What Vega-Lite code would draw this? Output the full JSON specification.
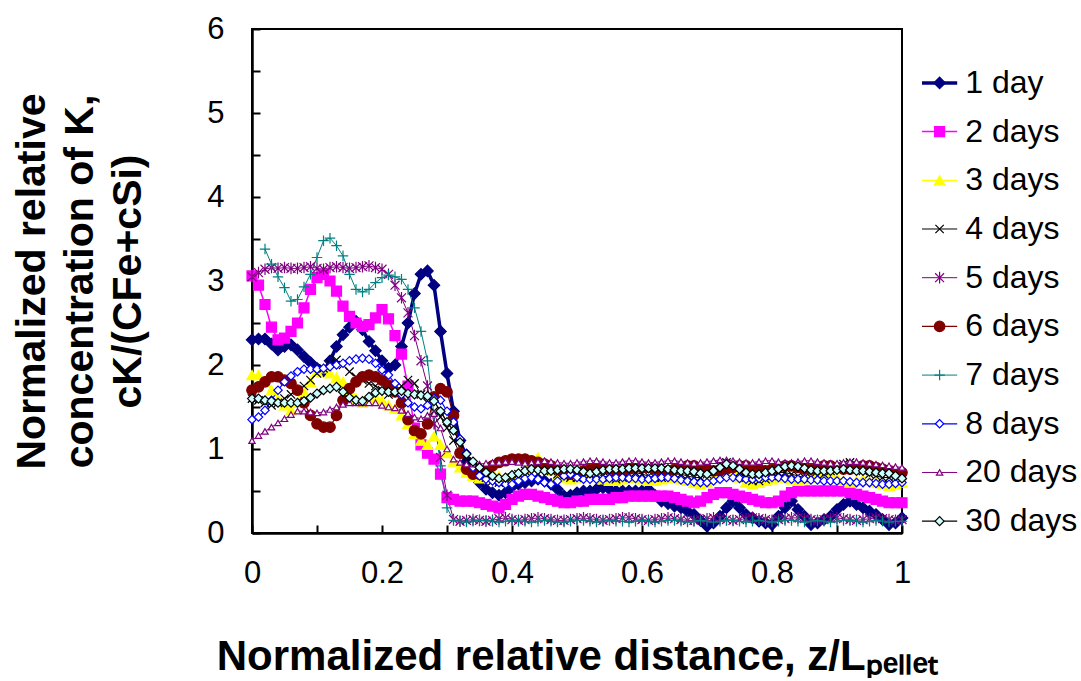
{
"$schema": "https://vega.github.io/schema/vega-lite/v6.json",
"background": "white",
"padding": {"left": 10, "top": 12, "right": 5, "bottom": 0},
"bounds": "flush",
"spacing": 20,
"config": {"font": "Liberation Sans", "view": {"stroke": null}},
"datasets": {
"leg": [{"s":"1 day"},{"s":"2 days"},{"s":"3 days"},{"s":"4 days"},{"s":"5 days"},{"s":"6 days"},{"s":"7 days"},{"s":"8 days"},{"s":"20 days"},{"s":"30 days"}],
"pts": [
{"s":"1 day","x":0,"y":2.3},{"s":"1 day","x":0.01,"y":2.31},{"s":"1 day","x":0.02,"y":2.31},{"s":"1 day","x":0.03,"y":2.25},{"s":"1 day","x":0.04,"y":2.18},{"s":"1 day","x":0.05,"y":2.22},{"s":"1 day","x":0.06,"y":2.24},{"s":"1 day","x":0.07,"y":2.18},{"s":"1 day","x":0.08,"y":2.1},{"s":"1 day","x":0.09,"y":2.03},
{"s":"1 day","x":0.1,"y":1.96},{"s":"1 day","x":0.11,"y":1.93},{"s":"1 day","x":0.12,"y":2.05},{"s":"1 day","x":0.13,"y":2.22},{"s":"1 day","x":0.14,"y":2.36},{"s":"1 day","x":0.15,"y":2.45},{"s":"1 day","x":0.16,"y":2.52},{"s":"1 day","x":0.17,"y":2.42},{"s":"1 day","x":0.18,"y":2.28},{"s":"1 day","x":0.19,"y":2.17},
{"s":"1 day","x":0.2,"y":2.05},{"s":"1 day","x":0.21,"y":1.96},{"s":"1 day","x":0.22,"y":2.0},{"s":"1 day","x":0.23,"y":2.22},{"s":"1 day","x":0.24,"y":2.5},{"s":"1 day","x":0.25,"y":2.85},{"s":"1 day","x":0.26,"y":3.08},{"s":"1 day","x":0.27,"y":3.12},{"s":"1 day","x":0.28,"y":2.95},{"s":"1 day","x":0.29,"y":2.4},
{"s":"1 day","x":0.3,"y":1.9},{"s":"1 day","x":0.31,"y":1.45},{"s":"1 day","x":0.32,"y":1.1},{"s":"1 day","x":0.33,"y":0.85},{"s":"1 day","x":0.34,"y":0.7},{"s":"1 day","x":0.35,"y":0.6},{"s":"1 day","x":0.36,"y":0.52},{"s":"1 day","x":0.37,"y":0.48},{"s":"1 day","x":0.38,"y":0.45},{"s":"1 day","x":0.39,"y":0.48},
{"s":"1 day","x":0.4,"y":0.55},{"s":"1 day","x":0.41,"y":0.58},{"s":"1 day","x":0.42,"y":0.6},{"s":"1 day","x":0.43,"y":0.62},{"s":"1 day","x":0.44,"y":0.64},{"s":"1 day","x":0.45,"y":0.62},{"s":"1 day","x":0.46,"y":0.58},{"s":"1 day","x":0.47,"y":0.52},{"s":"1 day","x":0.48,"y":0.44},{"s":"1 day","x":0.49,"y":0.45},
{"s":"1 day","x":0.5,"y":0.48},{"s":"1 day","x":0.51,"y":0.5},{"s":"1 day","x":0.52,"y":0.5},{"s":"1 day","x":0.53,"y":0.52},{"s":"1 day","x":0.54,"y":0.54},{"s":"1 day","x":0.55,"y":0.52},{"s":"1 day","x":0.56,"y":0.5},{"s":"1 day","x":0.57,"y":0.5},{"s":"1 day","x":0.58,"y":0.5},{"s":"1 day","x":0.59,"y":0.5},
{"s":"1 day","x":0.6,"y":0.5},{"s":"1 day","x":0.61,"y":0.52},{"s":"1 day","x":0.62,"y":0.45},{"s":"1 day","x":0.63,"y":0.38},{"s":"1 day","x":0.64,"y":0.35},{"s":"1 day","x":0.65,"y":0.32},{"s":"1 day","x":0.66,"y":0.3},{"s":"1 day","x":0.67,"y":0.26},{"s":"1 day","x":0.68,"y":0.22},{"s":"1 day","x":0.69,"y":0.15},
{"s":"1 day","x":0.7,"y":0.08},{"s":"1 day","x":0.71,"y":0.12},{"s":"1 day","x":0.72,"y":0.2},{"s":"1 day","x":0.73,"y":0.3},{"s":"1 day","x":0.74,"y":0.38},{"s":"1 day","x":0.75,"y":0.3},{"s":"1 day","x":0.76,"y":0.22},{"s":"1 day","x":0.77,"y":0.18},{"s":"1 day","x":0.78,"y":0.14},{"s":"1 day","x":0.79,"y":0.12},
{"s":"1 day","x":0.8,"y":0.1},{"s":"1 day","x":0.81,"y":0.2},{"s":"1 day","x":0.82,"y":0.3},{"s":"1 day","x":0.83,"y":0.38},{"s":"1 day","x":0.84,"y":0.28},{"s":"1 day","x":0.85,"y":0.2},{"s":"1 day","x":0.86,"y":0.1},{"s":"1 day","x":0.87,"y":0.12},{"s":"1 day","x":0.88,"y":0.16},{"s":"1 day","x":0.89,"y":0.2},
{"s":"1 day","x":0.9,"y":0.28},{"s":"1 day","x":0.91,"y":0.34},{"s":"1 day","x":0.92,"y":0.38},{"s":"1 day","x":0.93,"y":0.34},{"s":"1 day","x":0.94,"y":0.3},{"s":"1 day","x":0.95,"y":0.26},{"s":"1 day","x":0.96,"y":0.22},{"s":"1 day","x":0.97,"y":0.16},{"s":"1 day","x":0.98,"y":0.1},{"s":"1 day","x":0.99,"y":0.12},
{"s":"1 day","x":1,"y":0.18},
{"s":"2 days","x":0,"y":3.06},{"s":"2 days","x":0.01,"y":2.95},{"s":"2 days","x":0.02,"y":2.72},{"s":"2 days","x":0.03,"y":2.45},{"s":"2 days","x":0.04,"y":2.3},{"s":"2 days","x":0.05,"y":2.32},{"s":"2 days","x":0.06,"y":2.4},{"s":"2 days","x":0.07,"y":2.5},{"s":"2 days","x":0.08,"y":2.68},{"s":"2 days","x":0.09,"y":2.9},
{"s":"2 days","x":0.1,"y":3.04},{"s":"2 days","x":0.11,"y":3.08},{"s":"2 days","x":0.12,"y":3.0},{"s":"2 days","x":0.13,"y":2.88},{"s":"2 days","x":0.14,"y":2.7},{"s":"2 days","x":0.15,"y":2.58},{"s":"2 days","x":0.16,"y":2.5},{"s":"2 days","x":0.17,"y":2.46},{"s":"2 days","x":0.18,"y":2.48},{"s":"2 days","x":0.19,"y":2.56},
{"s":"2 days","x":0.2,"y":2.66},{"s":"2 days","x":0.21,"y":2.55},{"s":"2 days","x":0.22,"y":2.35},{"s":"2 days","x":0.23,"y":2.13},{"s":"2 days","x":0.24,"y":1.75},{"s":"2 days","x":0.25,"y":1.25},{"s":"2 days","x":0.26,"y":1.05},{"s":"2 days","x":0.27,"y":0.95},{"s":"2 days","x":0.28,"y":0.88},{"s":"2 days","x":0.29,"y":0.7},
{"s":"2 days","x":0.3,"y":0.42},{"s":"2 days","x":0.31,"y":0.4},{"s":"2 days","x":0.32,"y":0.38},{"s":"2 days","x":0.33,"y":0.38},{"s":"2 days","x":0.34,"y":0.38},{"s":"2 days","x":0.35,"y":0.36},{"s":"2 days","x":0.36,"y":0.34},{"s":"2 days","x":0.37,"y":0.32},{"s":"2 days","x":0.38,"y":0.3},{"s":"2 days","x":0.39,"y":0.34},
{"s":"2 days","x":0.4,"y":0.4},{"s":"2 days","x":0.41,"y":0.44},{"s":"2 days","x":0.42,"y":0.46},{"s":"2 days","x":0.43,"y":0.46},{"s":"2 days","x":0.44,"y":0.44},{"s":"2 days","x":0.45,"y":0.42},{"s":"2 days","x":0.46,"y":0.4},{"s":"2 days","x":0.47,"y":0.38},{"s":"2 days","x":0.48,"y":0.36},{"s":"2 days","x":0.49,"y":0.36},
{"s":"2 days","x":0.5,"y":0.38},{"s":"2 days","x":0.51,"y":0.38},{"s":"2 days","x":0.52,"y":0.4},{"s":"2 days","x":0.53,"y":0.4},{"s":"2 days","x":0.54,"y":0.4},{"s":"2 days","x":0.55,"y":0.4},{"s":"2 days","x":0.56,"y":0.42},{"s":"2 days","x":0.57,"y":0.42},{"s":"2 days","x":0.58,"y":0.44},{"s":"2 days","x":0.59,"y":0.44},
{"s":"2 days","x":0.6,"y":0.44},{"s":"2 days","x":0.61,"y":0.44},{"s":"2 days","x":0.62,"y":0.44},{"s":"2 days","x":0.63,"y":0.44},{"s":"2 days","x":0.64,"y":0.44},{"s":"2 days","x":0.65,"y":0.42},{"s":"2 days","x":0.66,"y":0.4},{"s":"2 days","x":0.67,"y":0.38},{"s":"2 days","x":0.68,"y":0.36},{"s":"2 days","x":0.69,"y":0.38},
{"s":"2 days","x":0.7,"y":0.42},{"s":"2 days","x":0.71,"y":0.46},{"s":"2 days","x":0.72,"y":0.48},{"s":"2 days","x":0.73,"y":0.48},{"s":"2 days","x":0.74,"y":0.46},{"s":"2 days","x":0.75,"y":0.44},{"s":"2 days","x":0.76,"y":0.42},{"s":"2 days","x":0.77,"y":0.4},{"s":"2 days","x":0.78,"y":0.38},{"s":"2 days","x":0.79,"y":0.36},
{"s":"2 days","x":0.8,"y":0.36},{"s":"2 days","x":0.81,"y":0.38},{"s":"2 days","x":0.82,"y":0.44},{"s":"2 days","x":0.83,"y":0.48},{"s":"2 days","x":0.84,"y":0.5},{"s":"2 days","x":0.85,"y":0.5},{"s":"2 days","x":0.86,"y":0.5},{"s":"2 days","x":0.87,"y":0.5},{"s":"2 days","x":0.88,"y":0.5},{"s":"2 days","x":0.89,"y":0.5},
{"s":"2 days","x":0.9,"y":0.5},{"s":"2 days","x":0.91,"y":0.5},{"s":"2 days","x":0.92,"y":0.48},{"s":"2 days","x":0.93,"y":0.46},{"s":"2 days","x":0.94,"y":0.44},{"s":"2 days","x":0.95,"y":0.42},{"s":"2 days","x":0.96,"y":0.4},{"s":"2 days","x":0.97,"y":0.38},{"s":"2 days","x":0.98,"y":0.36},{"s":"2 days","x":0.99,"y":0.36},
{"s":"2 days","x":1,"y":0.36},
{"s":"3 days","x":0,"y":1.88},{"s":"3 days","x":0.01,"y":1.88},{"s":"3 days","x":0.02,"y":1.8},{"s":"3 days","x":0.03,"y":1.7},{"s":"3 days","x":0.04,"y":1.6},{"s":"3 days","x":0.05,"y":1.52},{"s":"3 days","x":0.06,"y":1.46},{"s":"3 days","x":0.07,"y":1.55},{"s":"3 days","x":0.08,"y":1.68},{"s":"3 days","x":0.09,"y":1.8},
{"s":"3 days","x":0.1,"y":1.92},{"s":"3 days","x":0.11,"y":1.96},{"s":"3 days","x":0.12,"y":1.9},{"s":"3 days","x":0.13,"y":1.85},{"s":"3 days","x":0.14,"y":1.8},{"s":"3 days","x":0.15,"y":1.7},{"s":"3 days","x":0.16,"y":1.6},{"s":"3 days","x":0.17,"y":1.55},{"s":"3 days","x":0.18,"y":1.58},{"s":"3 days","x":0.19,"y":1.62},
{"s":"3 days","x":0.2,"y":1.58},{"s":"3 days","x":0.21,"y":1.52},{"s":"3 days","x":0.22,"y":1.48},{"s":"3 days","x":0.23,"y":1.4},{"s":"3 days","x":0.24,"y":1.3},{"s":"3 days","x":0.25,"y":1.18},{"s":"3 days","x":0.26,"y":1.1},{"s":"3 days","x":0.27,"y":1.05},{"s":"3 days","x":0.28,"y":1.15},{"s":"3 days","x":0.29,"y":1.05},
{"s":"3 days","x":0.3,"y":0.95},{"s":"3 days","x":0.31,"y":0.85},{"s":"3 days","x":0.32,"y":0.78},{"s":"3 days","x":0.33,"y":0.72},{"s":"3 days","x":0.34,"y":0.68},{"s":"3 days","x":0.35,"y":0.65},{"s":"3 days","x":0.36,"y":0.7},{"s":"3 days","x":0.37,"y":0.72},{"s":"3 days","x":0.38,"y":0.68},{"s":"3 days","x":0.39,"y":0.64},
{"s":"3 days","x":0.4,"y":0.66},{"s":"3 days","x":0.41,"y":0.7},{"s":"3 days","x":0.42,"y":0.76},{"s":"3 days","x":0.43,"y":0.84},{"s":"3 days","x":0.44,"y":0.9},{"s":"3 days","x":0.45,"y":0.82},{"s":"3 days","x":0.46,"y":0.74},{"s":"3 days","x":0.47,"y":0.68},{"s":"3 days","x":0.48,"y":0.66},{"s":"3 days","x":0.49,"y":0.64},
{"s":"3 days","x":0.5,"y":0.66},{"s":"3 days","x":0.51,"y":0.7},{"s":"3 days","x":0.52,"y":0.72},{"s":"3 days","x":0.53,"y":0.68},{"s":"3 days","x":0.54,"y":0.64},{"s":"3 days","x":0.55,"y":0.62},{"s":"3 days","x":0.56,"y":0.62},{"s":"3 days","x":0.57,"y":0.64},{"s":"3 days","x":0.58,"y":0.66},{"s":"3 days","x":0.59,"y":0.66},
{"s":"3 days","x":0.6,"y":0.64},{"s":"3 days","x":0.61,"y":0.62},{"s":"3 days","x":0.62,"y":0.62},{"s":"3 days","x":0.63,"y":0.64},{"s":"3 days","x":0.64,"y":0.66},{"s":"3 days","x":0.65,"y":0.66},{"s":"3 days","x":0.66,"y":0.64},{"s":"3 days","x":0.67,"y":0.62},{"s":"3 days","x":0.68,"y":0.6},{"s":"3 days","x":0.69,"y":0.58},
{"s":"3 days","x":0.7,"y":0.6},{"s":"3 days","x":0.71,"y":0.66},{"s":"3 days","x":0.72,"y":0.72},{"s":"3 days","x":0.73,"y":0.78},{"s":"3 days","x":0.74,"y":0.74},{"s":"3 days","x":0.75,"y":0.66},{"s":"3 days","x":0.76,"y":0.6},{"s":"3 days","x":0.77,"y":0.58},{"s":"3 days","x":0.78,"y":0.6},{"s":"3 days","x":0.79,"y":0.62},
{"s":"3 days","x":0.8,"y":0.64},{"s":"3 days","x":0.81,"y":0.66},{"s":"3 days","x":0.82,"y":0.66},{"s":"3 days","x":0.83,"y":0.64},{"s":"3 days","x":0.84,"y":0.62},{"s":"3 days","x":0.85,"y":0.64},{"s":"3 days","x":0.86,"y":0.66},{"s":"3 days","x":0.87,"y":0.72},{"s":"3 days","x":0.88,"y":0.76},{"s":"3 days","x":0.89,"y":0.72},
{"s":"3 days","x":0.9,"y":0.66},{"s":"3 days","x":0.91,"y":0.62},{"s":"3 days","x":0.92,"y":0.6},{"s":"3 days","x":0.93,"y":0.62},{"s":"3 days","x":0.94,"y":0.64},{"s":"3 days","x":0.95,"y":0.62},{"s":"3 days","x":0.96,"y":0.6},{"s":"3 days","x":0.97,"y":0.58},{"s":"3 days","x":0.98,"y":0.56},{"s":"3 days","x":0.99,"y":0.58},
{"s":"3 days","x":1,"y":0.6},
{"s":"4 days","x":0,"y":1.6},{"s":"4 days","x":0.01,"y":1.58},{"s":"4 days","x":0.02,"y":1.55},{"s":"4 days","x":0.03,"y":1.52},{"s":"4 days","x":0.04,"y":1.55},{"s":"4 days","x":0.05,"y":1.6},{"s":"4 days","x":0.06,"y":1.65},{"s":"4 days","x":0.07,"y":1.7},{"s":"4 days","x":0.08,"y":1.75},{"s":"4 days","x":0.09,"y":1.82},
{"s":"4 days","x":0.1,"y":1.9},{"s":"4 days","x":0.11,"y":1.96},{"s":"4 days","x":0.12,"y":2.02},{"s":"4 days","x":0.13,"y":2.06},{"s":"4 days","x":0.14,"y":2.0},{"s":"4 days","x":0.15,"y":1.92},{"s":"4 days","x":0.16,"y":1.86},{"s":"4 days","x":0.17,"y":1.82},{"s":"4 days","x":0.18,"y":1.78},{"s":"4 days","x":0.19,"y":1.75},
{"s":"4 days","x":0.2,"y":1.7},{"s":"4 days","x":0.21,"y":1.65},{"s":"4 days","x":0.22,"y":1.68},{"s":"4 days","x":0.23,"y":1.75},{"s":"4 days","x":0.24,"y":1.82},{"s":"4 days","x":0.25,"y":1.78},{"s":"4 days","x":0.26,"y":1.65},{"s":"4 days","x":0.27,"y":1.55},{"s":"4 days","x":0.28,"y":1.45},{"s":"4 days","x":0.29,"y":1.38},
{"s":"4 days","x":0.3,"y":1.25},{"s":"4 days","x":0.31,"y":1.1},{"s":"4 days","x":0.32,"y":0.95},{"s":"4 days","x":0.33,"y":0.85},{"s":"4 days","x":0.34,"y":0.78},{"s":"4 days","x":0.35,"y":0.72},{"s":"4 days","x":0.36,"y":0.66},{"s":"4 days","x":0.37,"y":0.62},{"s":"4 days","x":0.38,"y":0.6},{"s":"4 days","x":0.39,"y":0.62},
{"s":"4 days","x":0.4,"y":0.66},{"s":"4 days","x":0.41,"y":0.7},{"s":"4 days","x":0.42,"y":0.74},{"s":"4 days","x":0.43,"y":0.78},{"s":"4 days","x":0.44,"y":0.82},{"s":"4 days","x":0.45,"y":0.8},{"s":"4 days","x":0.46,"y":0.74},{"s":"4 days","x":0.47,"y":0.7},{"s":"4 days","x":0.48,"y":0.68},{"s":"4 days","x":0.49,"y":0.66},
{"s":"4 days","x":0.5,"y":0.66},{"s":"4 days","x":0.51,"y":0.68},{"s":"4 days","x":0.52,"y":0.7},{"s":"4 days","x":0.53,"y":0.7},{"s":"4 days","x":0.54,"y":0.68},{"s":"4 days","x":0.55,"y":0.66},{"s":"4 days","x":0.56,"y":0.64},{"s":"4 days","x":0.57,"y":0.66},{"s":"4 days","x":0.58,"y":0.7},{"s":"4 days","x":0.59,"y":0.72},
{"s":"4 days","x":0.6,"y":0.7},{"s":"4 days","x":0.61,"y":0.68},{"s":"4 days","x":0.62,"y":0.66},{"s":"4 days","x":0.63,"y":0.66},{"s":"4 days","x":0.64,"y":0.68},{"s":"4 days","x":0.65,"y":0.7},{"s":"4 days","x":0.66,"y":0.7},{"s":"4 days","x":0.67,"y":0.68},{"s":"4 days","x":0.68,"y":0.66},{"s":"4 days","x":0.69,"y":0.66},
{"s":"4 days","x":0.7,"y":0.7},{"s":"4 days","x":0.71,"y":0.76},{"s":"4 days","x":0.72,"y":0.8},{"s":"4 days","x":0.73,"y":0.84},{"s":"4 days","x":0.74,"y":0.8},{"s":"4 days","x":0.75,"y":0.72},{"s":"4 days","x":0.76,"y":0.66},{"s":"4 days","x":0.77,"y":0.62},{"s":"4 days","x":0.78,"y":0.62},{"s":"4 days","x":0.79,"y":0.64},
{"s":"4 days","x":0.8,"y":0.68},{"s":"4 days","x":0.81,"y":0.72},{"s":"4 days","x":0.82,"y":0.72},{"s":"4 days","x":0.83,"y":0.7},{"s":"4 days","x":0.84,"y":0.68},{"s":"4 days","x":0.85,"y":0.66},{"s":"4 days","x":0.86,"y":0.66},{"s":"4 days","x":0.87,"y":0.68},{"s":"4 days","x":0.88,"y":0.7},{"s":"4 days","x":0.89,"y":0.74},
{"s":"4 days","x":0.9,"y":0.78},{"s":"4 days","x":0.91,"y":0.82},{"s":"4 days","x":0.92,"y":0.84},{"s":"4 days","x":0.93,"y":0.8},{"s":"4 days","x":0.94,"y":0.74},{"s":"4 days","x":0.95,"y":0.7},{"s":"4 days","x":0.96,"y":0.68},{"s":"4 days","x":0.97,"y":0.66},{"s":"4 days","x":0.98,"y":0.66},{"s":"4 days","x":0.99,"y":0.68},
{"s":"4 days","x":1,"y":0.68},
{"s":"5 days","x":0,"y":3.05},{"s":"5 days","x":0.01,"y":3.1},{"s":"5 days","x":0.02,"y":3.14},{"s":"5 days","x":0.03,"y":3.16},{"s":"5 days","x":0.04,"y":3.15},{"s":"5 days","x":0.05,"y":3.16},{"s":"5 days","x":0.06,"y":3.15},{"s":"5 days","x":0.07,"y":3.15},{"s":"5 days","x":0.08,"y":3.16},{"s":"5 days","x":0.09,"y":3.17},
{"s":"5 days","x":0.1,"y":3.15},{"s":"5 days","x":0.11,"y":3.14},{"s":"5 days","x":0.12,"y":3.16},{"s":"5 days","x":0.13,"y":3.17},{"s":"5 days","x":0.14,"y":3.16},{"s":"5 days","x":0.15,"y":3.15},{"s":"5 days","x":0.16,"y":3.16},{"s":"5 days","x":0.17,"y":3.17},{"s":"5 days","x":0.18,"y":3.18},{"s":"5 days","x":0.19,"y":3.16},
{"s":"5 days","x":0.2,"y":3.14},{"s":"5 days","x":0.21,"y":3.08},{"s":"5 days","x":0.22,"y":2.95},{"s":"5 days","x":0.23,"y":2.8},{"s":"5 days","x":0.24,"y":2.62},{"s":"5 days","x":0.25,"y":2.35},{"s":"5 days","x":0.26,"y":2.05},{"s":"5 days","x":0.27,"y":1.75},{"s":"5 days","x":0.28,"y":1.3},{"s":"5 days","x":0.29,"y":0.9},
{"s":"5 days","x":0.3,"y":0.45},{"s":"5 days","x":0.31,"y":0.16},{"s":"5 days","x":0.32,"y":0.14},{"s":"5 days","x":0.33,"y":0.15},{"s":"5 days","x":0.34,"y":0.16},{"s":"5 days","x":0.35,"y":0.15},{"s":"5 days","x":0.36,"y":0.14},{"s":"5 days","x":0.37,"y":0.15},{"s":"5 days","x":0.38,"y":0.17},{"s":"5 days","x":0.39,"y":0.18},
{"s":"5 days","x":0.4,"y":0.16},{"s":"5 days","x":0.41,"y":0.15},{"s":"5 days","x":0.42,"y":0.16},{"s":"5 days","x":0.43,"y":0.17},{"s":"5 days","x":0.44,"y":0.18},{"s":"5 days","x":0.45,"y":0.17},{"s":"5 days","x":0.46,"y":0.16},{"s":"5 days","x":0.47,"y":0.15},{"s":"5 days","x":0.48,"y":0.15},{"s":"5 days","x":0.49,"y":0.16},
{"s":"5 days","x":0.5,"y":0.17},{"s":"5 days","x":0.51,"y":0.18},{"s":"5 days","x":0.52,"y":0.17},{"s":"5 days","x":0.53,"y":0.16},{"s":"5 days","x":0.54,"y":0.15},{"s":"5 days","x":0.55,"y":0.16},{"s":"5 days","x":0.56,"y":0.17},{"s":"5 days","x":0.57,"y":0.18},{"s":"5 days","x":0.58,"y":0.18},{"s":"5 days","x":0.59,"y":0.17},
{"s":"5 days","x":0.6,"y":0.16},{"s":"5 days","x":0.61,"y":0.15},{"s":"5 days","x":0.62,"y":0.16},{"s":"5 days","x":0.63,"y":0.17},{"s":"5 days","x":0.64,"y":0.18},{"s":"5 days","x":0.65,"y":0.17},{"s":"5 days","x":0.66,"y":0.16},{"s":"5 days","x":0.67,"y":0.15},{"s":"5 days","x":0.68,"y":0.15},{"s":"5 days","x":0.69,"y":0.16},
{"s":"5 days","x":0.7,"y":0.17},{"s":"5 days","x":0.71,"y":0.18},{"s":"5 days","x":0.72,"y":0.17},{"s":"5 days","x":0.73,"y":0.16},{"s":"5 days","x":0.74,"y":0.15},{"s":"5 days","x":0.75,"y":0.16},{"s":"5 days","x":0.76,"y":0.17},{"s":"5 days","x":0.77,"y":0.18},{"s":"5 days","x":0.78,"y":0.17},{"s":"5 days","x":0.79,"y":0.16},
{"s":"5 days","x":0.8,"y":0.15},{"s":"5 days","x":0.81,"y":0.16},{"s":"5 days","x":0.82,"y":0.17},{"s":"5 days","x":0.83,"y":0.18},{"s":"5 days","x":0.84,"y":0.18},{"s":"5 days","x":0.85,"y":0.17},{"s":"5 days","x":0.86,"y":0.16},{"s":"5 days","x":0.87,"y":0.15},{"s":"5 days","x":0.88,"y":0.16},{"s":"5 days","x":0.89,"y":0.17},
{"s":"5 days","x":0.9,"y":0.18},{"s":"5 days","x":0.91,"y":0.17},{"s":"5 days","x":0.92,"y":0.16},{"s":"5 days","x":0.93,"y":0.15},{"s":"5 days","x":0.94,"y":0.16},{"s":"5 days","x":0.95,"y":0.17},{"s":"5 days","x":0.96,"y":0.18},{"s":"5 days","x":0.97,"y":0.17},{"s":"5 days","x":0.98,"y":0.16},{"s":"5 days","x":0.99,"y":0.15},
{"s":"5 days","x":1,"y":0.16},
{"s":"6 days","x":0,"y":1.7},{"s":"6 days","x":0.01,"y":1.74},{"s":"6 days","x":0.02,"y":1.8},{"s":"6 days","x":0.03,"y":1.86},{"s":"6 days","x":0.04,"y":1.86},{"s":"6 days","x":0.05,"y":1.82},{"s":"6 days","x":0.06,"y":1.78},{"s":"6 days","x":0.07,"y":1.7},{"s":"6 days","x":0.08,"y":1.55},{"s":"6 days","x":0.09,"y":1.4},
{"s":"6 days","x":0.1,"y":1.3},{"s":"6 days","x":0.11,"y":1.26},{"s":"6 days","x":0.12,"y":1.26},{"s":"6 days","x":0.13,"y":1.4},{"s":"6 days","x":0.14,"y":1.58},{"s":"6 days","x":0.15,"y":1.72},{"s":"6 days","x":0.16,"y":1.8},{"s":"6 days","x":0.17,"y":1.86},{"s":"6 days","x":0.18,"y":1.88},{"s":"6 days","x":0.19,"y":1.86},
{"s":"6 days","x":0.2,"y":1.82},{"s":"6 days","x":0.21,"y":1.76},{"s":"6 days","x":0.22,"y":1.68},{"s":"6 days","x":0.23,"y":1.55},{"s":"6 days","x":0.24,"y":1.35},{"s":"6 days","x":0.25,"y":1.22},{"s":"6 days","x":0.26,"y":1.18},{"s":"6 days","x":0.27,"y":1.3},{"s":"6 days","x":0.28,"y":1.62},{"s":"6 days","x":0.29,"y":1.72},
{"s":"6 days","x":0.3,"y":1.68},{"s":"6 days","x":0.31,"y":1.4},{"s":"6 days","x":0.32,"y":0.95},{"s":"6 days","x":0.33,"y":0.76},{"s":"6 days","x":0.34,"y":0.7},{"s":"6 days","x":0.35,"y":0.7},{"s":"6 days","x":0.36,"y":0.74},{"s":"6 days","x":0.37,"y":0.8},{"s":"6 days","x":0.38,"y":0.84},{"s":"6 days","x":0.39,"y":0.86},
{"s":"6 days","x":0.4,"y":0.88},{"s":"6 days","x":0.41,"y":0.88},{"s":"6 days","x":0.42,"y":0.88},{"s":"6 days","x":0.43,"y":0.86},{"s":"6 days","x":0.44,"y":0.84},{"s":"6 days","x":0.45,"y":0.82},{"s":"6 days","x":0.46,"y":0.8},{"s":"6 days","x":0.47,"y":0.76},{"s":"6 days","x":0.48,"y":0.72},{"s":"6 days","x":0.49,"y":0.7},
{"s":"6 days","x":0.5,"y":0.72},{"s":"6 days","x":0.51,"y":0.74},{"s":"6 days","x":0.52,"y":0.76},{"s":"6 days","x":0.53,"y":0.78},{"s":"6 days","x":0.54,"y":0.78},{"s":"6 days","x":0.55,"y":0.76},{"s":"6 days","x":0.56,"y":0.74},{"s":"6 days","x":0.57,"y":0.74},{"s":"6 days","x":0.58,"y":0.76},{"s":"6 days","x":0.59,"y":0.78},
{"s":"6 days","x":0.6,"y":0.78},{"s":"6 days","x":0.61,"y":0.78},{"s":"6 days","x":0.62,"y":0.76},{"s":"6 days","x":0.63,"y":0.74},{"s":"6 days","x":0.64,"y":0.74},{"s":"6 days","x":0.65,"y":0.76},{"s":"6 days","x":0.66,"y":0.78},{"s":"6 days","x":0.67,"y":0.8},{"s":"6 days","x":0.68,"y":0.8},{"s":"6 days","x":0.69,"y":0.78},
{"s":"6 days","x":0.7,"y":0.76},{"s":"6 days","x":0.71,"y":0.74},{"s":"6 days","x":0.72,"y":0.74},{"s":"6 days","x":0.73,"y":0.76},{"s":"6 days","x":0.74,"y":0.78},{"s":"6 days","x":0.75,"y":0.8},{"s":"6 days","x":0.76,"y":0.8},{"s":"6 days","x":0.77,"y":0.78},{"s":"6 days","x":0.78,"y":0.76},{"s":"6 days","x":0.79,"y":0.74},
{"s":"6 days","x":0.8,"y":0.76},{"s":"6 days","x":0.81,"y":0.78},{"s":"6 days","x":0.82,"y":0.8},{"s":"6 days","x":0.83,"y":0.8},{"s":"6 days","x":0.84,"y":0.78},{"s":"6 days","x":0.85,"y":0.76},{"s":"6 days","x":0.86,"y":0.76},{"s":"6 days","x":0.87,"y":0.78},{"s":"6 days","x":0.88,"y":0.8},{"s":"6 days","x":0.89,"y":0.8},
{"s":"6 days","x":0.9,"y":0.78},{"s":"6 days","x":0.91,"y":0.76},{"s":"6 days","x":0.92,"y":0.76},{"s":"6 days","x":0.93,"y":0.78},{"s":"6 days","x":0.94,"y":0.8},{"s":"6 days","x":0.95,"y":0.8},{"s":"6 days","x":0.96,"y":0.78},{"s":"6 days","x":0.97,"y":0.76},{"s":"6 days","x":0.98,"y":0.74},{"s":"6 days","x":0.99,"y":0.72},
{"s":"6 days","x":1,"y":0.72},
{"s":"7 days","x":0.02,"y":3.38},{"s":"7 days","x":0.03,"y":3.2},{"s":"7 days","x":0.04,"y":3.05},{"s":"7 days","x":0.05,"y":2.92},{"s":"7 days","x":0.06,"y":2.76},{"s":"7 days","x":0.07,"y":2.78},{"s":"7 days","x":0.08,"y":2.93},{"s":"7 days","x":0.09,"y":3.08},
{"s":"7 days","x":0.1,"y":3.28},{"s":"7 days","x":0.11,"y":3.48},{"s":"7 days","x":0.12,"y":3.51},{"s":"7 days","x":0.13,"y":3.42},{"s":"7 days","x":0.14,"y":3.3},{"s":"7 days","x":0.15,"y":3.08},{"s":"7 days","x":0.16,"y":2.9},{"s":"7 days","x":0.17,"y":2.87},{"s":"7 days","x":0.18,"y":2.9},{"s":"7 days","x":0.19,"y":2.98},
{"s":"7 days","x":0.2,"y":3.04},{"s":"7 days","x":0.21,"y":3.07},{"s":"7 days","x":0.22,"y":3.05},{"s":"7 days","x":0.23,"y":3.02},{"s":"7 days","x":0.24,"y":2.9},{"s":"7 days","x":0.25,"y":2.68},{"s":"7 days","x":0.26,"y":2.4},{"s":"7 days","x":0.27,"y":2.05},{"s":"7 days","x":0.28,"y":1.4},{"s":"7 days","x":0.29,"y":0.8},
{"s":"7 days","x":0.3,"y":0.3},{"s":"7 days","x":0.31,"y":0.15},{"s":"7 days","x":0.32,"y":0.14},{"s":"7 days","x":0.33,"y":0.13},{"s":"7 days","x":0.34,"y":0.14},{"s":"7 days","x":0.35,"y":0.15},{"s":"7 days","x":0.36,"y":0.15},{"s":"7 days","x":0.37,"y":0.14},{"s":"7 days","x":0.38,"y":0.13},{"s":"7 days","x":0.39,"y":0.14},
{"s":"7 days","x":0.4,"y":0.15},{"s":"7 days","x":0.41,"y":0.14},{"s":"7 days","x":0.42,"y":0.14},{"s":"7 days","x":0.43,"y":0.13},{"s":"7 days","x":0.44,"y":0.14},{"s":"7 days","x":0.45,"y":0.15},{"s":"7 days","x":0.46,"y":0.14},{"s":"7 days","x":0.47,"y":0.13},{"s":"7 days","x":0.48,"y":0.13},{"s":"7 days","x":0.49,"y":0.14},
{"s":"7 days","x":0.5,"y":0.15},{"s":"7 days","x":0.51,"y":0.15},{"s":"7 days","x":0.52,"y":0.14},{"s":"7 days","x":0.53,"y":0.13},{"s":"7 days","x":0.54,"y":0.14},{"s":"7 days","x":0.55,"y":0.15},{"s":"7 days","x":0.56,"y":0.14},{"s":"7 days","x":0.57,"y":0.14},{"s":"7 days","x":0.58,"y":0.13},{"s":"7 days","x":0.59,"y":0.14},
{"s":"7 days","x":0.6,"y":0.15},{"s":"7 days","x":0.61,"y":0.14},{"s":"7 days","x":0.62,"y":0.13},{"s":"7 days","x":0.63,"y":0.14},{"s":"7 days","x":0.64,"y":0.15},{"s":"7 days","x":0.65,"y":0.15},{"s":"7 days","x":0.66,"y":0.14},{"s":"7 days","x":0.67,"y":0.13},{"s":"7 days","x":0.68,"y":0.14},{"s":"7 days","x":0.69,"y":0.15},
{"s":"7 days","x":0.7,"y":0.14},{"s":"7 days","x":0.71,"y":0.13},{"s":"7 days","x":0.72,"y":0.14},{"s":"7 days","x":0.73,"y":0.15},{"s":"7 days","x":0.74,"y":0.15},{"s":"7 days","x":0.75,"y":0.14},{"s":"7 days","x":0.76,"y":0.13},{"s":"7 days","x":0.77,"y":0.14},{"s":"7 days","x":0.78,"y":0.15},{"s":"7 days","x":0.79,"y":0.14},
{"s":"7 days","x":0.8,"y":0.13},{"s":"7 days","x":0.81,"y":0.14},{"s":"7 days","x":0.82,"y":0.15},{"s":"7 days","x":0.83,"y":0.15},{"s":"7 days","x":0.84,"y":0.14},{"s":"7 days","x":0.85,"y":0.13},{"s":"7 days","x":0.86,"y":0.14},{"s":"7 days","x":0.87,"y":0.15},{"s":"7 days","x":0.88,"y":0.14},{"s":"7 days","x":0.89,"y":0.13},
{"s":"7 days","x":0.9,"y":0.14},{"s":"7 days","x":0.91,"y":0.15},{"s":"7 days","x":0.92,"y":0.15},{"s":"7 days","x":0.93,"y":0.14},{"s":"7 days","x":0.94,"y":0.13},{"s":"7 days","x":0.95,"y":0.14},{"s":"7 days","x":0.96,"y":0.15},{"s":"7 days","x":0.97,"y":0.14},{"s":"7 days","x":0.98,"y":0.13},{"s":"7 days","x":0.99,"y":0.14},
{"s":"7 days","x":1,"y":0.14},
{"s":"8 days","x":0,"y":1.35},{"s":"8 days","x":0.01,"y":1.38},{"s":"8 days","x":0.02,"y":1.46},{"s":"8 days","x":0.03,"y":1.58},{"s":"8 days","x":0.04,"y":1.7},{"s":"8 days","x":0.05,"y":1.8},{"s":"8 days","x":0.06,"y":1.87},{"s":"8 days","x":0.07,"y":1.92},{"s":"8 days","x":0.08,"y":1.95},{"s":"8 days","x":0.09,"y":1.95},
{"s":"8 days","x":0.1,"y":1.95},{"s":"8 days","x":0.11,"y":1.96},{"s":"8 days","x":0.12,"y":1.98},{"s":"8 days","x":0.13,"y":2.0},{"s":"8 days","x":0.14,"y":2.02},{"s":"8 days","x":0.15,"y":2.05},{"s":"8 days","x":0.16,"y":2.07},{"s":"8 days","x":0.17,"y":2.08},{"s":"8 days","x":0.18,"y":2.07},{"s":"8 days","x":0.19,"y":2.02},
{"s":"8 days","x":0.2,"y":1.94},{"s":"8 days","x":0.21,"y":1.88},{"s":"8 days","x":0.22,"y":1.78},{"s":"8 days","x":0.23,"y":1.65},{"s":"8 days","x":0.24,"y":1.55},{"s":"8 days","x":0.25,"y":1.5},{"s":"8 days","x":0.26,"y":1.48},{"s":"8 days","x":0.27,"y":1.52},{"s":"8 days","x":0.28,"y":1.6},{"s":"8 days","x":0.29,"y":1.58},
{"s":"8 days","x":0.3,"y":1.45},{"s":"8 days","x":0.31,"y":1.32},{"s":"8 days","x":0.32,"y":1.12},{"s":"8 days","x":0.33,"y":0.95},{"s":"8 days","x":0.34,"y":0.78},{"s":"8 days","x":0.35,"y":0.68},{"s":"8 days","x":0.36,"y":0.64},{"s":"8 days","x":0.37,"y":0.62},{"s":"8 days","x":0.38,"y":0.6},{"s":"8 days","x":0.39,"y":0.58},
{"s":"8 days","x":0.4,"y":0.58},{"s":"8 days","x":0.41,"y":0.62},{"s":"8 days","x":0.42,"y":0.65},{"s":"8 days","x":0.43,"y":0.66},{"s":"8 days","x":0.44,"y":0.64},{"s":"8 days","x":0.45,"y":0.6},{"s":"8 days","x":0.46,"y":0.58},{"s":"8 days","x":0.47,"y":0.62},{"s":"8 days","x":0.48,"y":0.68},{"s":"8 days","x":0.49,"y":0.7},
{"s":"8 days","x":0.5,"y":0.66},{"s":"8 days","x":0.51,"y":0.64},{"s":"8 days","x":0.52,"y":0.64},{"s":"8 days","x":0.53,"y":0.64},{"s":"8 days","x":0.54,"y":0.64},{"s":"8 days","x":0.55,"y":0.65},{"s":"8 days","x":0.56,"y":0.66},{"s":"8 days","x":0.57,"y":0.66},{"s":"8 days","x":0.58,"y":0.65},{"s":"8 days","x":0.59,"y":0.65},
{"s":"8 days","x":0.6,"y":0.64},{"s":"8 days","x":0.61,"y":0.64},{"s":"8 days","x":0.62,"y":0.65},{"s":"8 days","x":0.63,"y":0.66},{"s":"8 days","x":0.64,"y":0.66},{"s":"8 days","x":0.65,"y":0.65},{"s":"8 days","x":0.66,"y":0.63},{"s":"8 days","x":0.67,"y":0.62},{"s":"8 days","x":0.68,"y":0.61},{"s":"8 days","x":0.69,"y":0.6},
{"s":"8 days","x":0.7,"y":0.6},{"s":"8 days","x":0.71,"y":0.62},{"s":"8 days","x":0.72,"y":0.64},{"s":"8 days","x":0.73,"y":0.66},{"s":"8 days","x":0.74,"y":0.66},{"s":"8 days","x":0.75,"y":0.65},{"s":"8 days","x":0.76,"y":0.64},{"s":"8 days","x":0.77,"y":0.64},{"s":"8 days","x":0.78,"y":0.65},{"s":"8 days","x":0.79,"y":0.66},
{"s":"8 days","x":0.8,"y":0.66},{"s":"8 days","x":0.81,"y":0.66},{"s":"8 days","x":0.82,"y":0.65},{"s":"8 days","x":0.83,"y":0.64},{"s":"8 days","x":0.84,"y":0.64},{"s":"8 days","x":0.85,"y":0.64},{"s":"8 days","x":0.86,"y":0.63},{"s":"8 days","x":0.87,"y":0.63},{"s":"8 days","x":0.88,"y":0.62},{"s":"8 days","x":0.89,"y":0.62},
{"s":"8 days","x":0.9,"y":0.62},{"s":"8 days","x":0.91,"y":0.62},{"s":"8 days","x":0.92,"y":0.61},{"s":"8 days","x":0.93,"y":0.6},{"s":"8 days","x":0.94,"y":0.6},{"s":"8 days","x":0.95,"y":0.6},{"s":"8 days","x":0.96,"y":0.59},{"s":"8 days","x":0.97,"y":0.58},{"s":"8 days","x":0.98,"y":0.58},{"s":"8 days","x":0.99,"y":0.59},
{"s":"8 days","x":1,"y":0.6},
{"s":"20 days","x":0,"y":1.1},{"s":"20 days","x":0.01,"y":1.16},{"s":"20 days","x":0.02,"y":1.21},{"s":"20 days","x":0.03,"y":1.26},{"s":"20 days","x":0.04,"y":1.31},{"s":"20 days","x":0.05,"y":1.36},{"s":"20 days","x":0.06,"y":1.41},{"s":"20 days","x":0.07,"y":1.45},{"s":"20 days","x":0.08,"y":1.45},{"s":"20 days","x":0.09,"y":1.44},
{"s":"20 days","x":0.1,"y":1.43},{"s":"20 days","x":0.11,"y":1.44},{"s":"20 days","x":0.12,"y":1.47},{"s":"20 days","x":0.13,"y":1.5},{"s":"20 days","x":0.14,"y":1.53},{"s":"20 days","x":0.15,"y":1.55},{"s":"20 days","x":0.16,"y":1.55},{"s":"20 days","x":0.17,"y":1.55},{"s":"20 days","x":0.18,"y":1.55},{"s":"20 days","x":0.19,"y":1.55},
{"s":"20 days","x":0.2,"y":1.52},{"s":"20 days","x":0.21,"y":1.5},{"s":"20 days","x":0.22,"y":1.49},{"s":"20 days","x":0.23,"y":1.46},{"s":"20 days","x":0.24,"y":1.42},{"s":"20 days","x":0.25,"y":1.38},{"s":"20 days","x":0.26,"y":1.36},{"s":"20 days","x":0.27,"y":1.4},{"s":"20 days","x":0.28,"y":1.42},{"s":"20 days","x":0.29,"y":1.25},
{"s":"20 days","x":0.3,"y":1.0},{"s":"20 days","x":0.31,"y":0.88},{"s":"20 days","x":0.32,"y":0.84},{"s":"20 days","x":0.33,"y":0.82},{"s":"20 days","x":0.34,"y":0.82},{"s":"20 days","x":0.35,"y":0.82},{"s":"20 days","x":0.36,"y":0.83},{"s":"20 days","x":0.37,"y":0.84},{"s":"20 days","x":0.38,"y":0.84},{"s":"20 days","x":0.39,"y":0.85},
{"s":"20 days","x":0.4,"y":0.85},{"s":"20 days","x":0.41,"y":0.84},{"s":"20 days","x":0.42,"y":0.83},{"s":"20 days","x":0.43,"y":0.84},{"s":"20 days","x":0.44,"y":0.85},{"s":"20 days","x":0.45,"y":0.86},{"s":"20 days","x":0.46,"y":0.85},{"s":"20 days","x":0.47,"y":0.84},{"s":"20 days","x":0.48,"y":0.83},{"s":"20 days","x":0.49,"y":0.83},
{"s":"20 days","x":0.5,"y":0.84},{"s":"20 days","x":0.51,"y":0.85},{"s":"20 days","x":0.52,"y":0.86},{"s":"20 days","x":0.53,"y":0.86},{"s":"20 days","x":0.54,"y":0.85},{"s":"20 days","x":0.55,"y":0.84},{"s":"20 days","x":0.56,"y":0.84},{"s":"20 days","x":0.57,"y":0.85},{"s":"20 days","x":0.58,"y":0.86},{"s":"20 days","x":0.59,"y":0.86},
{"s":"20 days","x":0.6,"y":0.85},{"s":"20 days","x":0.61,"y":0.84},{"s":"20 days","x":0.62,"y":0.84},{"s":"20 days","x":0.63,"y":0.85},{"s":"20 days","x":0.64,"y":0.86},{"s":"20 days","x":0.65,"y":0.86},{"s":"20 days","x":0.66,"y":0.85},{"s":"20 days","x":0.67,"y":0.84},{"s":"20 days","x":0.68,"y":0.83},{"s":"20 days","x":0.69,"y":0.84},
{"s":"20 days","x":0.7,"y":0.85},{"s":"20 days","x":0.71,"y":0.86},{"s":"20 days","x":0.72,"y":0.87},{"s":"20 days","x":0.73,"y":0.87},{"s":"20 days","x":0.74,"y":0.86},{"s":"20 days","x":0.75,"y":0.85},{"s":"20 days","x":0.76,"y":0.84},{"s":"20 days","x":0.77,"y":0.84},{"s":"20 days","x":0.78,"y":0.85},{"s":"20 days","x":0.79,"y":0.86},
{"s":"20 days","x":0.8,"y":0.86},{"s":"20 days","x":0.81,"y":0.85},{"s":"20 days","x":0.82,"y":0.84},{"s":"20 days","x":0.83,"y":0.84},{"s":"20 days","x":0.84,"y":0.85},{"s":"20 days","x":0.85,"y":0.86},{"s":"20 days","x":0.86,"y":0.86},{"s":"20 days","x":0.87,"y":0.85},{"s":"20 days","x":0.88,"y":0.84},{"s":"20 days","x":0.89,"y":0.83},
{"s":"20 days","x":0.9,"y":0.83},{"s":"20 days","x":0.91,"y":0.84},{"s":"20 days","x":0.92,"y":0.85},{"s":"20 days","x":0.93,"y":0.85},{"s":"20 days","x":0.94,"y":0.84},{"s":"20 days","x":0.95,"y":0.83},{"s":"20 days","x":0.96,"y":0.82},{"s":"20 days","x":0.97,"y":0.81},{"s":"20 days","x":0.98,"y":0.8},{"s":"20 days","x":0.99,"y":0.79},
{"s":"20 days","x":1,"y":0.78},
{"s":"30 days","x":0,"y":1.6},{"s":"30 days","x":0.01,"y":1.6},{"s":"30 days","x":0.02,"y":1.58},{"s":"30 days","x":0.03,"y":1.57},{"s":"30 days","x":0.04,"y":1.55},{"s":"30 days","x":0.05,"y":1.55},{"s":"30 days","x":0.06,"y":1.55},{"s":"30 days","x":0.07,"y":1.55},{"s":"30 days","x":0.08,"y":1.57},{"s":"30 days","x":0.09,"y":1.61},
{"s":"30 days","x":0.1,"y":1.66},{"s":"30 days","x":0.11,"y":1.7},{"s":"30 days","x":0.12,"y":1.72},{"s":"30 days","x":0.13,"y":1.74},{"s":"30 days","x":0.14,"y":1.68},{"s":"30 days","x":0.15,"y":1.61},{"s":"30 days","x":0.16,"y":1.58},{"s":"30 days","x":0.17,"y":1.57},{"s":"30 days","x":0.18,"y":1.62},{"s":"30 days","x":0.19,"y":1.67},
{"s":"30 days","x":0.2,"y":1.69},{"s":"30 days","x":0.21,"y":1.68},{"s":"30 days","x":0.22,"y":1.68},{"s":"30 days","x":0.23,"y":1.69},{"s":"30 days","x":0.24,"y":1.66},{"s":"30 days","x":0.25,"y":1.65},{"s":"30 days","x":0.26,"y":1.64},{"s":"30 days","x":0.27,"y":1.63},{"s":"30 days","x":0.28,"y":1.57},{"s":"30 days","x":0.29,"y":1.45},
{"s":"30 days","x":0.3,"y":1.32},{"s":"30 days","x":0.31,"y":1.22},{"s":"30 days","x":0.32,"y":1.08},{"s":"30 days","x":0.33,"y":0.94},{"s":"30 days","x":0.34,"y":0.85},{"s":"30 days","x":0.35,"y":0.78},{"s":"30 days","x":0.36,"y":0.72},{"s":"30 days","x":0.37,"y":0.68},{"s":"30 days","x":0.38,"y":0.65},{"s":"30 days","x":0.39,"y":0.66},
{"s":"30 days","x":0.4,"y":0.69},{"s":"30 days","x":0.41,"y":0.71},{"s":"30 days","x":0.42,"y":0.74},{"s":"30 days","x":0.43,"y":0.76},{"s":"30 days","x":0.44,"y":0.75},{"s":"30 days","x":0.45,"y":0.74},{"s":"30 days","x":0.46,"y":0.74},{"s":"30 days","x":0.47,"y":0.75},{"s":"30 days","x":0.48,"y":0.76},{"s":"30 days","x":0.49,"y":0.76},
{"s":"30 days","x":0.5,"y":0.75},{"s":"30 days","x":0.51,"y":0.73},{"s":"30 days","x":0.52,"y":0.71},{"s":"30 days","x":0.53,"y":0.73},{"s":"30 days","x":0.54,"y":0.75},{"s":"30 days","x":0.55,"y":0.76},{"s":"30 days","x":0.56,"y":0.76},{"s":"30 days","x":0.57,"y":0.76},{"s":"30 days","x":0.58,"y":0.77},{"s":"30 days","x":0.59,"y":0.77},
{"s":"30 days","x":0.6,"y":0.77},{"s":"30 days","x":0.61,"y":0.77},{"s":"30 days","x":0.62,"y":0.77},{"s":"30 days","x":0.63,"y":0.77},{"s":"30 days","x":0.64,"y":0.76},{"s":"30 days","x":0.65,"y":0.75},{"s":"30 days","x":0.66,"y":0.74},{"s":"30 days","x":0.67,"y":0.74},{"s":"30 days","x":0.68,"y":0.73},{"s":"30 days","x":0.69,"y":0.71},
{"s":"30 days","x":0.7,"y":0.7},{"s":"30 days","x":0.71,"y":0.74},{"s":"30 days","x":0.72,"y":0.78},{"s":"30 days","x":0.73,"y":0.82},{"s":"30 days","x":0.74,"y":0.8},{"s":"30 days","x":0.75,"y":0.76},{"s":"30 days","x":0.76,"y":0.72},{"s":"30 days","x":0.77,"y":0.7},{"s":"30 days","x":0.78,"y":0.7},{"s":"30 days","x":0.79,"y":0.72},
{"s":"30 days","x":0.8,"y":0.74},{"s":"30 days","x":0.81,"y":0.76},{"s":"30 days","x":0.82,"y":0.79},{"s":"30 days","x":0.83,"y":0.8},{"s":"30 days","x":0.84,"y":0.79},{"s":"30 days","x":0.85,"y":0.77},{"s":"30 days","x":0.86,"y":0.75},{"s":"30 days","x":0.87,"y":0.74},{"s":"30 days","x":0.88,"y":0.74},{"s":"30 days","x":0.89,"y":0.74},
{"s":"30 days","x":0.9,"y":0.75},{"s":"30 days","x":0.91,"y":0.76},{"s":"30 days","x":0.92,"y":0.75},{"s":"30 days","x":0.93,"y":0.74},{"s":"30 days","x":0.94,"y":0.74},{"s":"30 days","x":0.95,"y":0.73},{"s":"30 days","x":0.96,"y":0.72},{"s":"30 days","x":0.97,"y":0.71},{"s":"30 days","x":0.98,"y":0.71},{"s":"30 days","x":0.99,"y":0.68},
{"s":"30 days","x":1,"y":0.65}
]},
"hconcat": [
{
"width": 650, "height": 504,
"data": {"name": "pts"},
"view": {"stroke": "black", "strokeWidth": 2},
"encoding": {
"x": {"field": "x", "type": "quantitative", "scale": {"domain": [0, 1], "nice": false},
 "axis": {"values": [0,0.1,0.2,0.3,0.4,0.5,0.6,0.7,0.8,0.9,1], "format": "~g", "labelExpr": "round(datum.value*10) % 2 === 0 ? datum.label : ''",
  "grid": false, "domainColor": "black", "domainWidth": 2.5, "tickColor": "black", "tickWidth": 2, "tickSize": -8,
  "labelFontSize": 31, "labelColor": "black", "labelPadding": 33, "labelFlush": false,
  "title": "Normalized relative distance, z/Lₚₑₗₗₑₜ", "titleFontSize": 42, "titleFontWeight": "bold", "titleColor": "black", "titlePadding": 48}},
"y": {"field": "y", "type": "quantitative", "scale": {"domain": [0, 6], "nice": false},
 "axis": {"values": [0,0.5,1,1.5,2,2.5,3,3.5,4,4.5,5,5.5,6], "format": "~g", "labelExpr": "datum.value % 1 === 0 ? datum.label : ''",
  "grid": false, "domainColor": "black", "domainWidth": 2.5, "tickColor": "black", "tickWidth": 2, "tickSize": -8,
  "labelFontSize": 31, "labelColor": "black", "labelPadding": 36, "labelFlush": false,
  "title": ["Normalized relative", "concentration of K,", "cK/(CFe+cSi)"], "titleFontSize": 41, "titleFontWeight": "bold", "titleColor": "black", "titleLineHeight": 48, "titlePadding": 57}}
},
"layer": [
{"mark": {"type": "line"},
 "encoding": {
  "color": {"field": "s", "type": "nominal", "legend": null, "scale": {"domain": ["1 day","2 days","3 days","4 days","5 days","6 days","7 days","8 days","20 days","30 days"], "range": ["#000080","#FF00FF","#FFFF00","#000000","#800080","#800000","#008080","#0000FF","#800080","#000000"]}},
  "strokeWidth": {"field": "s", "type": "nominal", "legend": null, "scale": {"type": "ordinal", "domain": ["1 day","2 days","3 days","4 days","5 days","6 days","7 days","8 days","20 days","30 days"], "range": [3.5,1.5,1.2,1,1,1.2,1,1.2,1,1.3]}}
 }},
{"mark": {"type": "point", "filled": false, "opacity": 1, "strokeWidth": 1.2},
 "encoding": {
  "color": {"field": "s", "type": "nominal", "legend": null},
  "fill": {"field": "s", "type": "nominal", "legend": null, "scale": {"domain": ["1 day","2 days","3 days","4 days","5 days","6 days","7 days","8 days","20 days","30 days"], "range": ["#000080","#FF00FF","#FFFF00","transparent","transparent","#800000","transparent","#FFFFFF","#FFFFFF","#CCFFFF"]}},
  "shape": {"field": "s", "type": "nominal", "legend": null, "scale": {"domain": ["1 day","2 days","3 days","4 days","5 days","6 days","7 days","8 days","20 days","30 days"], "range": ["diamond","square","triangle-up","M-1,-1L1,1M-1,1L1,-1","M-1,-1L1,1M-1,1L1,-1M0,-1.3L0,1.3","circle","M-1,0L1,0M0,-1L0,1","diamond","triangle-up","diamond"]}},
  "size": {"field": "s", "type": "nominal", "legend": null, "scale": {"type": "ordinal", "domain": ["1 day","2 days","3 days","4 days","5 days","6 days","7 days","8 days","20 days","30 days"], "range": [130,100,110,70,80,110,110,70,40,80]}}
 }}
]
},
{
"width": 160, "height": 504,
"data": {"name": "leg"},
"encoding": {
"y": {"field": "s", "type": "nominal", "axis": null, "scale": {"type": "point", "domain": ["1 day","2 days","3 days","4 days","5 days","6 days","7 days","8 days","20 days","30 days"], "padding": 0.675, "align": 0.82}}
},
"layer": [
{"mark": {"type": "rule"},
 "encoding": {
  "x": {"datum": 0, "type": "quantitative", "scale": {"domain": [0, 10], "nice": false}, "axis": null},
  "x2": {"datum": 2.2},
  "color": {"field": "s", "type": "nominal", "legend": null, "scale": {"domain": ["1 day","2 days","3 days","4 days","5 days","6 days","7 days","8 days","20 days","30 days"], "range": ["#000080","#FF00FF","#FFFF00","#000000","#800080","#800000","#008080","#0000FF","#800080","#000000"]}},
  "strokeWidth": {"field": "s", "type": "nominal", "legend": null, "scale": {"type": "ordinal", "domain": ["1 day","2 days","3 days","4 days","5 days","6 days","7 days","8 days","20 days","30 days"], "range": [3.5,1.5,1.2,1,1,1.2,1,1.2,1,1.3]}}
 }},
{"mark": {"type": "point", "filled": false, "opacity": 1, "strokeWidth": 1.2},
 "encoding": {
  "x": {"datum": 1.1, "type": "quantitative"},
  "color": {"field": "s", "type": "nominal", "legend": null},
  "fill": {"field": "s", "type": "nominal", "legend": null, "scale": {"domain": ["1 day","2 days","3 days","4 days","5 days","6 days","7 days","8 days","20 days","30 days"], "range": ["#000080","#FF00FF","#FFFF00","transparent","transparent","#800000","transparent","#FFFFFF","#FFFFFF","#CCFFFF"]}},
  "shape": {"field": "s", "type": "nominal", "legend": null, "scale": {"domain": ["1 day","2 days","3 days","4 days","5 days","6 days","7 days","8 days","20 days","30 days"], "range": ["diamond","square","triangle-up","M-1,-1L1,1M-1,1L1,-1","M-1,-1L1,1M-1,1L1,-1M0,-1.3L0,1.3","circle","M-1,0L1,0M0,-1L0,1","diamond","triangle-up","diamond"]}},
  "size": {"field": "s", "type": "nominal", "legend": null, "scale": {"type": "ordinal", "domain": ["1 day","2 days","3 days","4 days","5 days","6 days","7 days","8 days","20 days","30 days"], "range": [130,100,110,70,80,110,110,70,40,80]}}
 }},
{"mark": {"type": "text", "align": "left", "baseline": "middle", "fontSize": 32, "color": "black"},
 "encoding": {
  "x": {"datum": 2.7, "type": "quantitative"},
  "text": {"field": "s", "type": "nominal"}
 }}
]
}
]
}
